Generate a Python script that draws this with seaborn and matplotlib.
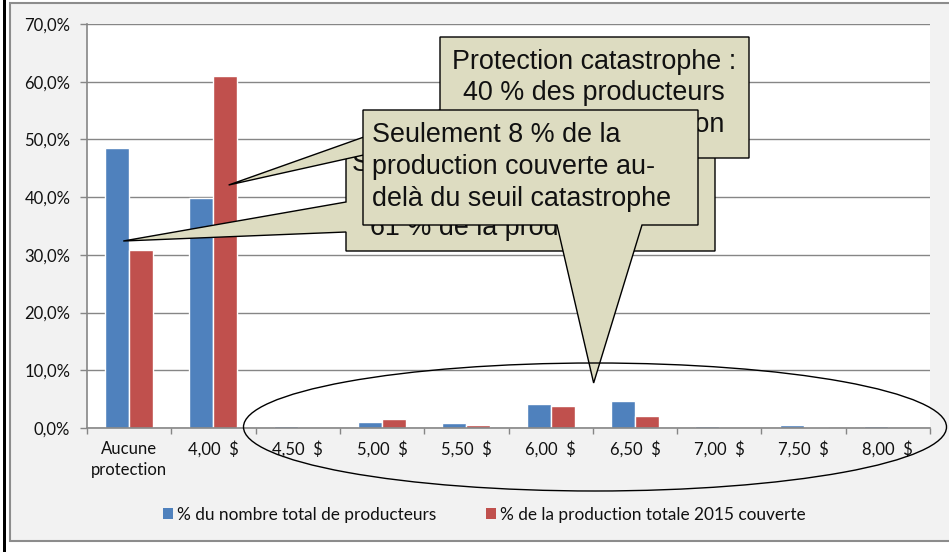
import numpy as np
import pandas as pd
import matplotlib
matplotlib.use("Agg")
import matplotlib.pyplot as plt
import seaborn as sns
from matplotlib.patches import Polygon, Rectangle, Ellipse
from matplotlib.ticker import FuncFormatter

# ---------------- data ----------------
categories = ["Aucune\nprotection", "4,00  $", "4,50  $", "5,00  $", "5,50  $",
              "6,00  $", "6,50  $", "7,00  $", "7,50  $", "8,00  $"]
producteurs = [48.5, 39.8, 0.3, 1.0, 0.8, 4.1, 4.7, 0.35, 0.5, 0.3]
production = [30.8, 61.0, 0.0, 1.5, 0.45, 3.8, 2.1, 0.0, 0.25, 0.0]
series_names = ["% du nombre total de producteurs",
                "% de la production totale 2015 couverte"]
series_colors = ["#4f81bd", "#c0504d"]
y_ticks = [0, 10, 20, 30, 40, 50, 60, 70]

callout_top = ["Protection catastrophe :", "40 % des producteurs", "61 % de la production"]
callout_mid = ["Seuil de 4,00 $ :", "40 % des producteurs", "61 % de la production"]
callout_front = ["Seulement 8 % de la", "production couverte au-", "delà du seuil catastrophe"]

df = pd.DataFrame({
    "cat": categories * 2,
    "val": producteurs + production,
    "serie": [series_names[0]] * len(categories) + [series_names[1]] * len(categories),
})

# ---------------- style ----------------
sns.set_style("white")
plt.rcParams["font.family"] = ["Lato", "DejaVu Sans"]

W, H = 949, 552
fig = plt.figure(figsize=(W / 100, H / 100), dpi=100)
fig.patch.set_facecolor("white")


def fx(x, y):
    """pixel (from top-left) -> figure fraction"""
    return (x / W, 1 - y / H)


# chart area background + border
fig.add_artist(Rectangle(fx(10, 541), (W + 20 - 10) / W, (541 - 3) / H,
                         transform=fig.transFigure, facecolor="#f2f2f2",
                         edgecolor="#8c8c8c", lw=1.5, zorder=-10))
fig.add_artist(Rectangle(fx(3, H + 5), 3 / W, (H + 10) / H, transform=fig.transFigure,
                         facecolor="black", edgecolor="none", zorder=-9))

ax = fig.add_axes([87 / W, 124 / H, 843 / W, 404 / H])
ax.set_facecolor("white")

sns.barplot(data=df, x="cat", y="val", hue="serie", order=categories,
            hue_order=series_names, palette=series_colors, width=0.57, gap=0,
            saturation=1, legend=False, ax=ax, errorbar=None)

ax.set_xlim(-0.5, len(categories) - 0.5)
ax.set_ylim(0, 70)
ax.set_yticks(y_ticks)
ax.yaxis.set_major_formatter(FuncFormatter(lambda v, p: f"{v:.1f}%".replace(".", ",")))
ax.set_xlabel("")
ax.set_ylabel("")
ax.set_xticks(range(len(categories)))
ax.set_xticklabels(categories, linespacing=1.4)
ax.set_xticks(np.arange(-0.5, len(categories), 1.0), minor=True)

ax.yaxis.grid(True, color="#868686", lw=1)
ax.xaxis.grid(False)
ax.set_axisbelow(True)
for s in ["top", "right"]:
    ax.spines[s].set_visible(False)
for s in ["left", "bottom"]:
    ax.spines[s].set_color("#868686")
    ax.spines[s].set_linewidth(1.2)

ax.tick_params(axis="y", length=5, width=1, color="#868686", pad=7,
               labelsize=12, labelcolor="#111111", left=True)
ax.tick_params(axis="x", which="major", length=0, pad=9, labelsize=12,
               labelcolor="#111111")
ax.tick_params(axis="x", which="minor", length=4, width=1, color="#868686", bottom=True)

# legend
handles = [Rectangle((0, 0), 1, 1, facecolor=c, edgecolor="none") for c in series_colors]
fig.legend(handles, series_names, loc="center", bbox_to_anchor=fx(484, 515),
           ncol=2, frameon=False, fontsize=12.4, handlelength=0.6, handleheight=0.6,
           handletextpad=0.2, columnspacing=2.9, labelcolor="#111111")


# ---------------- callouts ----------------
def data_px(x, y):
    dx, dy = ax.transData.transform((x, y))
    return (dx, H - dy)


def poly(points_px, z):
    pts = [fx(x, y) for x, y in points_px]
    fig.add_artist(Polygon(pts, closed=True, transform=fig.transFigure,
                           facecolor="#dddcc1", edgecolor="black", lw=1, zorder=z))


txt_kw = dict(fontsize=19.4, family=["Liberation Sans", "DejaVu Sans"], color="#111111",
              va="center")

# middle (back) callout, pointing to "Aucune protection"
tip_mid = data_px(-0.07, 32.4)
poly([(346, 144), (715, 144), (715, 251), (346, 251), (346, 232), tip_mid, (346, 202)], 2)
fig.text(*fx(352, 164), callout_mid[0], ha="left", zorder=2.5, **txt_kw)
fig.text(*fx(370, 196), callout_mid[1], ha="left", zorder=2.5, **txt_kw)
fig.text(*fx(370, 228), callout_mid[2], ha="left", zorder=2.5, **txt_kw)

# top callout, pointing to 4,00 $
tip_top = data_px(1.18, 42.1)
poly([(440, 37), (749, 37), (749, 158), (440, 158), (440, 138), tip_top, (440, 110)], 3)
for i, line in enumerate(callout_top):
    fig.text(*fx(594, 62 + 31.5 * i), line, ha="center", zorder=3.5, **txt_kw)

# front callout, pointing down to the zoomed area
tip_front = data_px(5.51, 7.8)
poly([(363, 110), (698, 110), (698, 225), (642, 225), tip_front, (557, 225), (363, 225)], 4)
for i, line in enumerate(callout_front):
    fig.text(*fx(372, 135 + 32 * i), line, ha="left", zorder=4.5, **txt_kw)

# ellipse around the small categories
fig.add_artist(Ellipse(fx(595, 427), 703 / W, 128 / H, transform=fig.transFigure,
                       facecolor="none", edgecolor="black", lw=1, zorder=6))

fig.savefig("out.png", dpi=100)
